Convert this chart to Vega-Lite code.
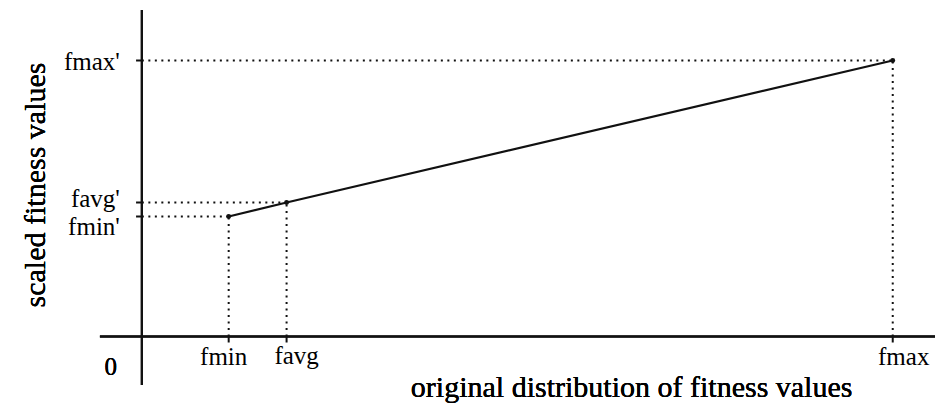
{
  "$schema": "https://vega.github.io/schema/vega-lite/v6.json",
  "width": 936,
  "height": 409,
  "padding": 0,
  "autosize": {"type": "fit", "contains": "padding"},
  "background": "white",
  "config": {"view": {"stroke": null}, "text": {"font": "Liberation Serif", "color": "#000"}},
  "data": {
    "values": [
      {"name": "fmin", "yname": "fmin'", "x": 1.5, "y": 6},
      {"name": "favg", "yname": "favg'", "x": 2.5, "y": 6.7},
      {"name": "fmax", "yname": "fmax'", "x": 12.97, "y": 13.8}
    ]
  },
  "encoding": {
    "x": {"field": "x", "type": "quantitative", "scale": {"domain": [-2.45, 13.7], "nice": false, "zero": false}, "axis": null},
    "y": {"field": "y", "type": "quantitative", "scale": {"domain": [-3.625, 16.825], "nice": false, "zero": false}, "axis": null}
  },
  "layer": [
    {
      "mark": {"type": "rule", "strokeDash": [2, 4.5], "strokeWidth": 2, "color": "#111"},
      "encoding": {"x": {"datum": 0}, "x2": {"field": "x"}}
    },
    {
      "mark": {"type": "rule", "strokeDash": [2, 4.5], "strokeWidth": 2, "color": "#111"},
      "encoding": {"y": {"datum": 0}, "y2": {"field": "y"}}
    },
    {
      "mark": {"type": "rule", "strokeWidth": 2, "color": "#111"},
      "encoding": {"x": {"datum": -0.1}, "x2": {"datum": 0}}
    },
    {
      "mark": {"type": "rule", "strokeWidth": 2, "color": "#111"},
      "encoding": {"y": {"datum": 0}, "y2": {"datum": -0.3}}
    },
    {
      "mark": {"type": "rule", "strokeWidth": 2, "color": "#111"},
      "encoding": {"x": {"datum": 0}, "y": {"datum": 16.325}, "y2": {"datum": -2.425}}
    },
    {
      "mark": {"type": "rule", "strokeWidth": 2, "color": "#111"},
      "encoding": {"y": {"datum": 0}, "x": {"datum": -0.724}, "x2": {"datum": 13.7}}
    },
    {
      "mark": {"type": "line", "strokeWidth": 2.2, "color": "#111"},
      "encoding": {"order": {"field": "x"}}
    },
    {
      "mark": {"type": "point", "filled": true, "size": 24, "opacity": 1, "color": "#111"},
      "encoding": {}
    },
    {
      "transform": [{"filter": "datum.name === 'fmax'"}],
      "mark": {"type": "text", "fontSize": 25, "align": "right", "baseline": "middle", "dx": -22, "dy": 1},
      "encoding": {"x": {"datum": 0}, "text": {"field": "yname"}}
    },
    {
      "transform": [{"filter": "datum.name === 'favg'"}],
      "mark": {"type": "text", "fontSize": 25, "align": "right", "baseline": "middle", "dx": -22, "dy": -4},
      "encoding": {"x": {"datum": 0}, "text": {"field": "yname"}}
    },
    {
      "transform": [{"filter": "datum.name === 'fmin'"}],
      "mark": {"type": "text", "fontSize": 25, "align": "right", "baseline": "middle", "dx": -22, "dy": 10},
      "encoding": {"x": {"datum": 0}, "text": {"field": "yname"}}
    },
    {
      "transform": [{"filter": "datum.name === 'fmin'"}],
      "mark": {"type": "text", "fontSize": 25, "align": "center", "baseline": "alphabetic", "dx": -5, "dy": 28},
      "encoding": {"y": {"datum": 0}, "text": {"field": "name"}}
    },
    {
      "transform": [{"filter": "datum.name === 'favg'"}],
      "mark": {"type": "text", "fontSize": 25, "align": "center", "baseline": "alphabetic", "dx": 10, "dy": 27},
      "encoding": {"y": {"datum": 0}, "text": {"field": "name"}}
    },
    {
      "transform": [{"filter": "datum.name === 'fmax'"}],
      "mark": {"type": "text", "fontSize": 25, "align": "center", "baseline": "alphabetic", "dx": 11, "dy": 28},
      "encoding": {"y": {"datum": 0}, "text": {"field": "name"}}
    },
    {
      "mark": {"type": "text", "fontSize": 25, "align": "center", "baseline": "alphabetic", "dx": -31, "dy": 38, "text": "0"},
      "encoding": {"x": {"datum": 0}, "y": {"datum": 0}}
    },
    {
      "mark": {"type": "text", "fontSize": 30, "align": "center", "baseline": "alphabetic", "text": "original distribution of fitness values"},
      "encoding": {"x": {"datum": 8.46}, "y": {"datum": -3.01}}
    },
    {
      "mark": {"type": "text", "fontSize": 30, "align": "center", "baseline": "middle", "angle": 270, "text": "scaled fitness values"},
      "encoding": {"x": {"datum": -1.83}, "y": {"datum": 7.575}}
    }
  ]
}
